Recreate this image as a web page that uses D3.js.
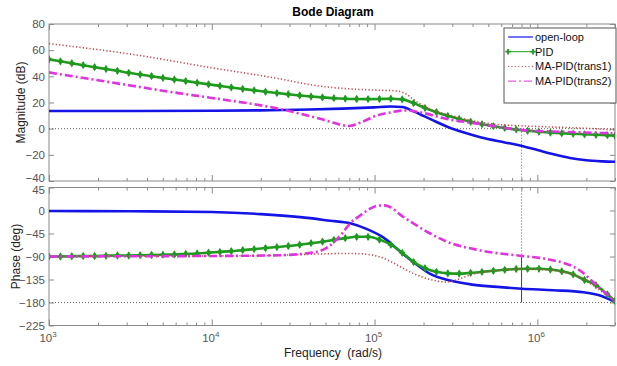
<!DOCTYPE html>
<html>
<head>
<meta charset="utf-8">
<script src="https://cdn.jsdelivr.net/npm/d3@7"></script>
<style>
  body { margin: 0; background: #fff; }
  text { font-family: "Liberation Sans", Arial, sans-serif; }
</style>
</head>
<body>
<div id="chart"></div>
<script>
// ---- data (frequencies as log10 of rad/s) ----
const seriesNames = ["open-loop", "PID", "MA-PID(trans1)", "MA-PID(trans2)"];
const magTicks = [80, 60, 40, 20, 0, -20, -40];
const phaseTicks = [45, 0, -45, -90, -135, -180, -225];
const freqTicks = [1e3, 1e4, 1e5, 1e6];

// open-loop
const olMagLogW = [3.0, 3.5, 4.0, 4.3, 4.6, 4.8, 5.0, 5.1, 5.17, 5.24, 5.3, 5.35, 5.45, 5.55, 5.65, 5.8, 5.9, 6.0, 6.1, 6.2, 6.3, 6.4, 6.477];
const olMagDb = [13.5, 13.5, 13.7, 14.0, 14.6, 15.3, 16.3, 16.9, 16.6, 13.2, 9.8, 6.9, 1.3, -3.0, -6.6, -10.5, -13.0, -16.3, -19.6, -22.4, -24.2, -25.0, -25.3];
const olPhLogW = [3.0, 3.5, 4.0, 4.3, 4.543, 4.727, 4.85, 4.95, 5.055, 5.157, 5.26, 5.342, 5.465, 5.6, 5.772, 5.905, 6.1, 6.284, 6.38, 6.477];
const olPhDeg = [-1, -1.5, -3, -7, -13, -20, -25, -36, -53, -80, -106, -124, -137, -145, -150, -153, -156, -160, -166, -179];

// PID (one marker per point)
const pidLogW = [3.00, 3.07, 3.14, 3.21, 3.28, 3.35, 3.42, 3.49, 3.56, 3.63, 3.70, 3.77, 3.84, 3.91, 3.98, 4.05, 4.12, 4.19, 4.26, 4.33, 4.40, 4.47, 4.54, 4.61, 4.68, 4.75, 4.82, 4.89, 4.96, 5.03, 5.10, 5.17, 5.24, 5.31, 5.38, 5.45, 5.52, 5.59, 5.66, 5.73, 5.80, 5.87, 5.94, 6.01, 6.08, 6.15, 6.22, 6.29, 6.36, 6.43, 6.477];
const pidMagDb = [53.0, 51.5, 50.0, 48.5, 47.0, 45.6, 44.2, 42.7, 41.4, 40.1, 38.8, 37.6, 36.4, 35.1, 33.9, 32.7, 31.5, 30.4, 29.3, 28.2, 27.2, 26.3, 25.4, 24.6, 23.9, 23.3, 22.9, 22.7, 22.6, 22.7, 22.9, 22.4, 19.5, 15.8, 12.6, 9.8, 7.4, 5.3, 3.4, 1.9, 0.6, -0.6, -1.6, -2.4, -3.0, -3.5, -3.9, -4.3, -4.7, -5.0, -5.3];
const pidPhDeg = [-90, -90, -89.5, -89, -89, -88.5, -88, -88, -87.5, -87, -86.5, -86, -85, -84, -82.5, -81, -79.5, -77.5, -75.5, -73.5, -71.5, -69.5, -67, -64, -61, -57.5, -54, -51.5, -51.5, -57, -67, -83, -101, -113, -120, -123, -123.5, -122, -120, -118, -116, -114.5, -114, -114, -115.5, -119, -125, -136, -146, -164, -177];

// MA-PID(trans1)
const t1MagLogW = [3.0, 3.5, 4.0, 4.42, 4.543, 4.666, 4.8, 5.0, 5.14, 5.2, 5.237, 5.3, 5.36, 5.444, 5.55, 5.649, 5.75, 5.9, 6.1, 6.26, 6.477];
const t1MagDb = [65, 57, 46.5, 38, 35, 32.5, 30.8, 29.5, 28.8, 26, 22.5, 17.5, 14, 11, 7.5, 5, 3.3, 2.2, 1.2, 0.5, -1];
const t1PhLogW = [3.0, 3.5, 4.0, 4.42, 4.666, 4.85, 4.95, 5.034, 5.1, 5.157, 5.237, 5.342, 5.44, 5.52, 5.6, 5.7, 5.8, 5.905, 6.05, 6.15, 6.264, 6.37, 6.477];
const t1PhDeg = [-90, -89.5, -89, -87.5, -85, -84, -85.5, -91, -100, -110, -123, -135, -140, -134, -125, -119, -116.5, -115, -116, -120, -131, -153, -178];

// MA-PID(trans2)
const t2MagLogW = [3.0, 3.5, 3.805, 4.0, 4.42, 4.666, 4.75, 4.84, 4.93, 5.0, 5.1, 5.2, 5.28, 5.444, 5.649, 5.905, 6.264, 6.477];
const t2MagDb = [43, 33, 27, 23.5, 15, 7.5, 4.5, 2.0, 5.5, 9.5, 12.5, 14, 12.5, 7.4, 3.6, -1, -2.8, -3.6];
const t2PhLogW = [3.0, 3.5, 4.0, 4.42, 4.6, 4.666, 4.7, 4.75, 4.8, 4.85, 4.91, 4.97, 5.02, 5.06, 5.1, 5.157, 5.237, 5.342, 5.444, 5.649, 5.905, 6.06, 6.264, 6.37, 6.477];
const t2PhDeg = [-90, -89.5, -89, -87.5, -83, -79, -74, -62, -45, -25, -10, 3, 9.5, 10, 6, -8, -25, -45, -61, -78, -89, -95, -118, -148, -178];

// margin marker
const crossoverW = 8.0e5;
const marginPhase = -89;

// ---- layout ----
const width = 617, height = 366;
const left = 49, right = 615;
const magTop = 24, magBottom = 181, phTop = 187.5, phBottom = 325.5;
const axisColor = "#8a8a8a", labelColor = "#555";

let svg = d3.select("#chart")
    .append("svg")
    .attr("width", width)
    .attr("height", height);

let x = d3.scaleLog().domain([1e3, 3e6]).range([left, right]);
let yMag = d3.scaleLinear().domain([-40, 80]).range([magBottom, magTop]);
let yPh = d3.scaleLinear().domain([-225, 45]).range([phBottom, phTop]);

let isDecade = v => Math.abs(Math.log10(v) - Math.round(Math.log10(v))) < 1e-9;
let minorTicks = x.ticks().filter(v => !isDecade(v));

// clip paths
let defs = svg.append("defs");
defs.append("clipPath").attr("id", "clipMag").append("rect")
    .attr("x", left).attr("y", magTop).attr("width", right - left).attr("height", magBottom - magTop);
defs.append("clipPath").attr("id", "clipPh").append("rect")
    .attr("x", left).attr("y", phTop).attr("width", right - left).attr("height", phBottom - phTop);

function drawFrame(y, top, bottom, ticks) {
    let g = svg.append("g");
    g.append("rect")
        .attr("x", left).attr("y", top)
        .attr("width", right - left).attr("height", bottom - top)
        .attr("fill", "#fff");

    // x ticks, bottom and top, pointing inside
    g.append("g").attr("transform", `translate(0,${bottom})`)
        .call(d3.axisBottom(x).tickValues(minorTicks).tickSize(-3).tickSizeOuter(0).tickFormat(""));
    g.append("g").attr("transform", `translate(0,${bottom})`)
        .call(d3.axisBottom(x).tickValues(freqTicks).tickSize(-6).tickSizeOuter(0).tickFormat(""));
    g.append("g").attr("transform", `translate(0,${top})`)
        .call(d3.axisTop(x).tickValues(minorTicks).tickSize(-3).tickSizeOuter(0).tickFormat(""));
    g.append("g").attr("transform", `translate(0,${top})`)
        .call(d3.axisTop(x).tickValues(freqTicks).tickSize(-6).tickSizeOuter(0).tickFormat(""));

    // y ticks left (with labels) and right
    g.append("g").attr("class", "yleft").attr("transform", `translate(${left},0)`)
        .call(d3.axisLeft(y).tickValues(ticks).tickSize(-5).tickSizeOuter(0).tickPadding(4));
    g.append("g").attr("transform", `translate(${right},0)`)
        .call(d3.axisRight(y).tickValues(ticks).tickSize(-5).tickSizeOuter(0).tickFormat(""));

    g.selectAll(".domain").remove();
    g.selectAll(".tick line").attr("stroke", axisColor);
    g.selectAll(".tick text")
        .attr("fill", labelColor)
        .style("font-size", "11.5px")
        .style("font-family", "'Liberation Sans', Arial, sans-serif");

    g.append("rect")
        .attr("x", left).attr("y", top)
        .attr("width", right - left).attr("height", bottom - top)
        .attr("fill", "none")
        .attr("stroke", axisColor);
    return g;
}

let magFrame = drawFrame(yMag, magTop, magBottom, magTicks);
let phFrame = drawFrame(yPh, phTop, phBottom, phaseTicks);

// the -40 and 45 labels sit nearly on top of each other, nudge them apart like the original
magFrame.selectAll(".yleft .tick text").filter(d => d === -40).attr("dy", "0.02em");
phFrame.selectAll(".yleft .tick text").filter(d => d === 45).attr("dy", "0.5em");

// reference lines (0 dB, -180 deg)
svg.append("line")
    .attr("x1", left).attr("x2", right).attr("y1", yMag(0)).attr("y2", yMag(0))
    .attr("stroke", "#666").attr("stroke-dasharray", "1,2");
svg.append("line")
    .attr("x1", left).attr("x2", right).attr("y1", yPh(-180)).attr("y2", yPh(-180))
    .attr("stroke", "#666").attr("stroke-dasharray", "1,2");

// margin marker
svg.append("line")
    .attr("x1", x(crossoverW)).attr("x2", x(crossoverW))
    .attr("y1", yMag(0)).attr("y2", magBottom)
    .attr("stroke", "#666").attr("stroke-dasharray", "1,2");
svg.append("line")
    .attr("x1", x(crossoverW)).attr("x2", x(crossoverW))
    .attr("y1", phTop).attr("y2", yPh(marginPhase))
    .attr("stroke", "#666").attr("stroke-dasharray", "1,2");
svg.append("line")
    .attr("x1", x(crossoverW)).attr("x2", x(crossoverW))
    .attr("y1", yPh(marginPhase)).attr("y2", yPh(-180))
    .attr("stroke", "#444").attr("stroke-width", 1);

// ---- curves ----
const styles = [
    { color: "#1414e6", width: 2.6, dash: null },
    { color: "#1f9a1f", width: 2.6, dash: null },
    { color: "#c2474f", width: 1.6, dash: "1.2,2.2" },
    { color: "#e033e0", width: 2.6, dash: "8,3,2,3" }
];

function toPoints(logW, vals) {
    return d3.zip(logW, vals).map(d => ({ w: Math.pow(10, d[0]), v: d[1] }));
}

let magData = [
    toPoints(olMagLogW, olMagDb),
    toPoints(pidLogW, pidMagDb),
    toPoints(t1MagLogW, t1MagDb),
    toPoints(t2MagLogW, t2MagDb)
];
let phData = [
    toPoints(olPhLogW, olPhDeg),
    toPoints(pidLogW, pidPhDeg),
    toPoints(t1PhLogW, t1PhDeg),
    toPoints(t2PhLogW, t2PhDeg)
];

let marker = d3.symbol().type(d3.symbolDiamond).size(20);
let markerCross = d3.symbol().type(d3.symbolCross).size(18);

function drawCurves(data, y, clipId) {
    let g = svg.append("g").attr("clip-path", `url(#${clipId})`);
    let line = d3.line()
        .x(d => x(d.w))
        .y(d => y(d.v))
        .curve(d3.curveMonotoneX);
    data.forEach(function(pts, i) {
        let s = styles[i];
        g.append("path")
            .datum(pts)
            .attr("d", line)
            .attr("fill", "none")
            .attr("stroke", s.color)
            .attr("stroke-width", s.width)
            .attr("stroke-dasharray", s.dash);
        if (i === 1) {
            let m = g.selectAll(null)
                .data(pts)
                .enter()
                .append("g")
                .attr("transform", d => `translate(${x(d.w)},${y(d.v)})`);
            m.append("path").attr("d", marker).attr("fill", s.color);
            m.append("path").attr("d", markerCross).attr("fill", s.color);
        }
    });
}

drawCurves(magData, yMag, "clipMag");
drawCurves(phData, yPh, "clipPh");

// ---- text ----
svg.append("text")
    .attr("x", 333).attr("y", 16)
    .attr("text-anchor", "middle")
    .style("font-size", "12px")
    .style("font-weight", "bold")
    .text("Bode Diagram");

svg.append("text")
    .attr("transform", `translate(25, ${(magTop + magBottom) / 2}) rotate(-90)`)
    .attr("text-anchor", "middle")
    .style("font-size", "12px")
    .attr("fill", "#222")
    .text("Magnitude (dB)");

svg.append("text")
    .attr("transform", `translate(20, ${(phTop + phBottom) / 2}) rotate(-90)`)
    .attr("text-anchor", "middle")
    .style("font-size", "12px")
    .attr("fill", "#222")
    .text("Phase (deg)");

svg.append("text")
    .attr("x", 333).attr("y", 357)
    .attr("text-anchor", "middle")
    .style("font-size", "12px")
    .style("white-space", "pre")
    .attr("fill", "#222")
    .text("Frequency  (rad/s)");

// x tick labels 10^n
let xl = svg.append("g").selectAll("text")
    .data(freqTicks)
    .enter()
    .append("text")
    .attr("x", d => x(d) - 1)
    .attr("y", 342)
    .attr("text-anchor", "middle")
    .attr("fill", labelColor)
    .style("font-size", "11.5px");
xl.append("tspan").text("10");
xl.append("tspan")
    .attr("dy", -5)
    .style("font-size", "8px")
    .text(d => Math.round(Math.log10(d)));

// ---- legend ----
let lg = svg.append("g");
lg.append("rect")
    .attr("x", 504).attr("y", 28)
    .attr("width", 112).attr("height", 75)
    .attr("fill", "#fff")
    .attr("stroke", "#555");

seriesNames.forEach(function(name, i) {
    let s = styles[i];
    let ly = 37 + i * 14.7;
    lg.append("line")
        .attr("x1", 508).attr("x2", 533)
        .attr("y1", ly).attr("y2", ly)
        .attr("stroke", s.color)
        .attr("stroke-width", i === 0 ? 1.2 : 1)
        .attr("stroke-dasharray", s.dash);
    if (i === 1) {
        [508, 533].forEach(function(mx) {
            lg.append("path")
                .attr("d", d3.symbol().type(d3.symbolCross).size(16))
                .attr("transform", `translate(${mx},${ly})`)
                .attr("fill", s.color);
        });
    }
    lg.append("text")
        .attr("x", 535).attr("y", ly + 4)
        .style("font-size", "11px")
        .attr("fill", "#111")
        .text(name);
});
</script>
</body>
</html>
